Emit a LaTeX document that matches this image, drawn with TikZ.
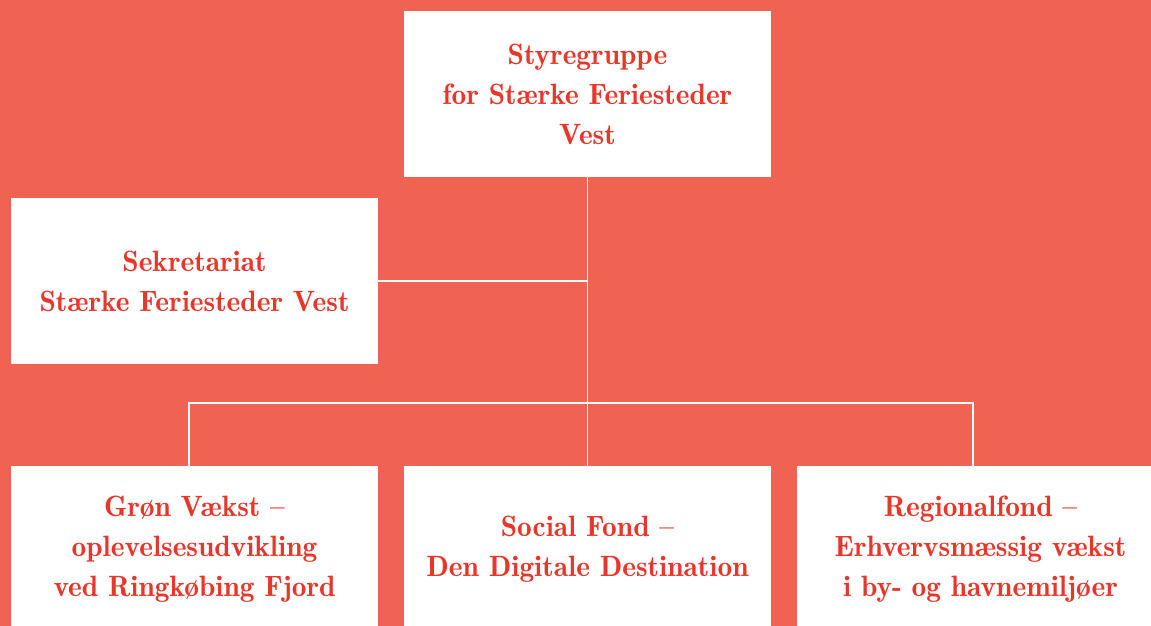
\documentclass[tikz,border=0pt]{standalone}
\usetikzlibrary{calc}
\definecolor{coral}{HTML}{F06251}
\definecolor{inkred}{HTML}{E8372A}
\begin{document}
\begin{tikzpicture}[x=1pt,y=-1pt,
  box/.style={fill=white,draw=none,inner sep=0pt,align=center,text=inkred,
    minimum width=367,minimum height=166,
    font=\fontsize{29.4}{40}\fontseries{b}\selectfont},
  link/.style={draw=white,line width=1.8pt}]
  % canvas
  \fill[coral] (0,0) rectangle (1151,626);
  \useasboundingbox (0,0) rectangle (1151,626);
  \begin{scope}
  \clip (0,0) rectangle (1151,626);
  % boxes
  \node[box] (top) at (587.5,94)
    {Styregruppe\\for Stærke Feriesteder\\Vest};
  \node[box] (sek) at (194.5,281)
    {Sekretariat\\Stærke Feriesteder Vest};
  \node[box] (b1) at (194.5,549)
    {Grøn Vækst –\\oplevelsesudvikling\\ved Ringkøbing Fjord};
  \node[box] (b2) at (587.5,549)
    {Social Fond –\\Den Digitale Destination};
  \node[box] (b3) at (980.5,549)
    {Regionalfond –\\Erhvervsmæssig vækst\\i by- og havnemiljøer};
  \end{scope}
  % connector points
  \coordinate (bus) at (587.5,402.7);
  \coordinate (j1) at (188.7,466);
  \coordinate (j3) at (973,466);
  % connectors
  \draw[link] (top.south) -- (b2.north);
  \draw[link] (sek.east) -- (sek.east -| top.south);
  \draw[link] (j1) |- (bus) -| (j3);
\end{tikzpicture}
\end{document}
